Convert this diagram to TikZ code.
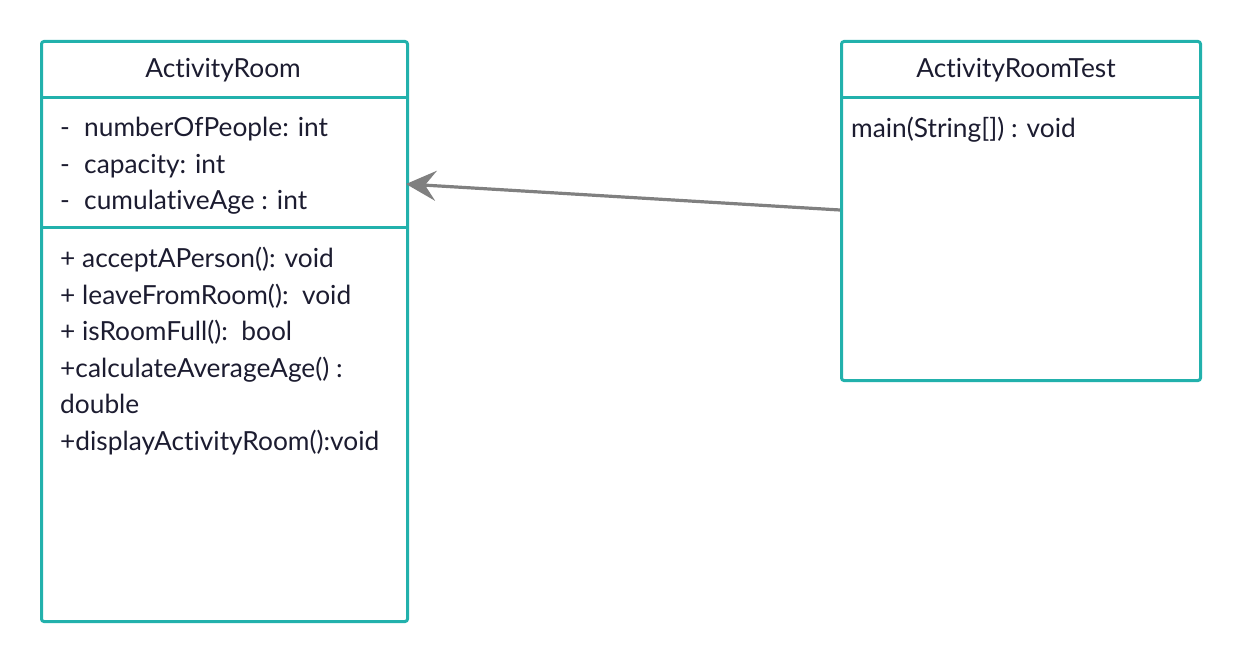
\documentclass[tikz,border=0pt]{standalone}
\usepackage{fontspec}
\setmainfont{Lato}[Ligatures=NoCommon]
\usetikzlibrary{arrows.meta}
\definecolor{umlteal}{HTML}{22B1AC}
\definecolor{arrowgray}{HTML}{808080}
\definecolor{umltext}{HTML}{1C1C30}

\begin{document}
\begin{tikzpicture}[x=1pt,y=-1pt,
    classbox/.style={draw=umlteal, line width=3pt, rounded corners=2.5pt,
      inner sep=0pt, anchor=north west},
    members/.style={anchor=north west, align=left, inner sep=0pt, text=umltext,
      font=\fontsize{26.3}{36.5}\selectfont},
    title/.style={inner sep=0pt, text=umltext, font=\fontsize{26.3}{30}\selectfont}]

  \useasboundingbox (0,0) rectangle (1240,661);

  % ActivityRoom
  \node[classbox, minimum width=366pt, minimum height=580pt] (room) at (40,40) {};
  \draw[umlteal, line width=3pt] (40,97) -- (406,97);
  \draw[umlteal, line width=3pt] (40,227) -- (406,227);
  \node[title] (roomname) at (223,70) {ActivityRoom};
  \node[members] (roomattr) at (60,117) {%
    \makebox[24pt][l]{-}numberOfPeople: int\\
    \makebox[24pt][l]{-}capacity: int\\
    \makebox[24pt][l]{-}cumulativeAge : int};
  \node[members] (roommeth) at (60,247) {%
    + acceptAPerson(): void\\
    + leaveFromRoom():\ \ void\\
    + isRoomFull():\ \ bool\\
    +calculateAverageAge() :\\
    double\\
    +displayActivityRoom():void};

  % ActivityRoomTest
  \node[classbox, minimum width=359pt, minimum height=339pt] (tester) at (840,40) {};
  \draw[umlteal, line width=3pt] (840,97) -- (1199,97);
  \node[title] (testername) at (1016,70) {ActivityRoomTest};
  \node[members] (testermeth) at (851,117) {main(String[]) : void};

  % dependency
  \coordinate (from) at ([yshift=-170pt]tester.north west);
  \coordinate (to) at ([xshift=-3pt, yshift=-144pt]room.north east);
  \draw[arrowgray, line width=3.2pt, -{Stealth[length=30pt, width=30pt, inset=11pt]}]
    (from) -- (to);

\end{tikzpicture}
\end{document}
